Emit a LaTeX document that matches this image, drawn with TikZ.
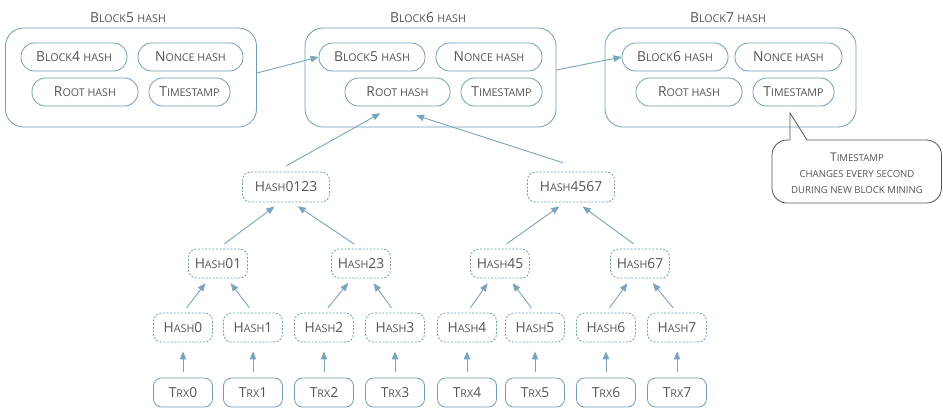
\documentclass[tikz,border=0pt]{standalone}
\usepackage{fontspec}
\setmainfont{Open Sans}
\usetikzlibrary{arrows.meta}
\definecolor{edge}{HTML}{6F9DB3}
\definecolor{arrc}{HTML}{7AA5BA}
\definecolor{txt}{HTML}{555555}
\definecolor{callc}{HTML}{555555}
\newcommand\sk[1]{{\fontsize{10.7}{12}\selectfont\MakeUppercase{#1}}}
\newcommand\skc[1]{{\fontsize{9.6}{10}\selectfont\MakeUppercase{#1}}}
\begin{document}
\begin{tikzpicture}[x=1pt,y=-1pt,
 every node/.style={text=txt, font=\fontsize{13.8}{16}\selectfont},
 bigbox/.style={draw=edge, line width=0.8pt, rounded corners=18pt, minimum width=251pt, minimum height=99pt, inner sep=0pt},
 pill/.style={draw=edge, line width=0.8pt, rounded corners=13.5pt, minimum height=28pt, inner sep=0pt, text height=9.8pt, text depth=0pt},
 hbox/.style={draw=edge, dash pattern=on 2pt off 1.6pt, line width=0.8pt, rounded corners=8pt, minimum width=59pt, minimum height=29pt, inner sep=0pt, text height=9.8pt, text depth=0pt},
 tbox/.style={draw=edge, line width=0.8pt, rounded corners=8pt, minimum width=59pt, minimum height=29pt, inner sep=0pt, text height=9.8pt, text depth=0pt},
 title/.style={anchor=base},
 arr/.style={draw=arrc, line width=0.9pt, -{Triangle[length=8pt,width=6.5pt]}},
 ]
\useasboundingbox (0,0) rectangle (943,408);
\fill[white] (0,0) rectangle (943,408);

% --- blocks ---
\node[bigbox] (blk5) at (131,77.5) {};
\node[bigbox] (blk6) at (430.5,77.5) {};
\node[bigbox] (blk7) at (730.5,77.5) {};
\node[title] (t5) at (128,22) {B\sk{lock}5 \sk{hash}};
\node[title] (t6) at (428,22) {B\sk{lock}6 \sk{hash}};
\node[title] (t7) at (728,22) {B\sk{lock}7 \sk{hash}};

\node[pill, minimum width=106pt] (a1) at (74,57) {B\sk{lock}4 \sk{hash}};
\node[pill, minimum width=105pt] (a2) at (190.5,57) {N\sk{once hash}};
\node[pill, minimum width=106pt] (a3) at (85,92) {R\sk{oot hash}};
\node[pill, minimum width=81pt] (a4) at (189.5,92) {T\sk{imestamp}};

\node[pill, minimum width=106pt] (b1) at (372,57) {B\sk{lock}5 \sk{hash}};
\node[pill, minimum width=106pt] (b2) at (489,57) {N\sk{once hash}};
\node[pill, minimum width=105pt] (b3) at (397.5,92) {R\sk{oot hash}};
\node[pill, minimum width=81pt] (b4) at (501.5,92) {T\sk{imestamp}};

\node[pill, minimum width=106pt] (c1) at (675,57) {B\sk{lock}6 \sk{hash}};
\node[pill, minimum width=107pt] (c2) at (788.5,57) {N\sk{once hash}};
\node[pill, minimum width=106pt] (c3) at (689,92) {R\sk{oot hash}};
\node[pill, minimum width=81pt] (c4) at (793.5,92) {T\sk{imestamp}};

\draw[arr] ([yshift=4.5pt]blk5.east) -- (b1.west);
\draw[arr] ([yshift=7.5pt]blk6.east) -- (c1.west);

% --- callout ---
\coordinate (tip) at (790,113);
\draw[callc, line width=0.8pt] (tip) -- (807,140) [rounded corners=15pt] -- (941.5,140) -- (941.5,203) -- (772,203) -- (772,140) [sharp corners] -- (790,140) -- cycle;
\node[align=center, font=\fontsize{12}{16}\selectfont, text=txt] (note) at (857,173)
 {T\skc{imestamp}\\ \skc{changes every second}\\ \skc{during new block mining}};

% --- tree ---
\node[hbox, minimum width=87pt, minimum height=30pt] (h0123) at (286,187) {H\sk{ash}0123};
\node[hbox, minimum width=87pt, minimum height=30pt] (h4567) at (571,187) {H\sk{ash}4567};
\node[hbox] (h01) at (218,263.5) {H\sk{ash}01};
\node[hbox] (h23) at (361,263.5) {H\sk{ash}23};
\node[hbox] (h45) at (500,263.5) {H\sk{ash}45};
\node[hbox] (h67) at (640,263.5) {H\sk{ash}67};
\foreach \i/\x in {0/183,1/253,2/324,3/395,4/467,5/535,6/606,7/677}{
  \node[hbox] (h\i) at (\x,327.5) {H\sk{ash}\i};
  \node[tbox] (t\i) at (\x,392.5) {T\sk{rx}\i};
  \draw[arr, shorten <=6pt, shorten >=9pt] (t\i.north) -- (h\i.south);
}
\draw[arr, shorten <=6pt, shorten >=6pt] (h0.north) -- ([xshift=-9pt]h01.south);
\draw[arr, shorten <=6pt, shorten >=6pt] (h1.north) -- ([xshift=9pt]h01.south);
\draw[arr, shorten <=6pt, shorten >=6pt] (h2.north) -- ([xshift=-9pt]h23.south);
\draw[arr, shorten <=6pt, shorten >=6pt] (h3.north) -- ([xshift=9pt]h23.south);
\draw[arr, shorten <=6pt, shorten >=6pt] (h4.north) -- ([xshift=-9pt]h45.south);
\draw[arr, shorten <=6pt, shorten >=6pt] (h5.north) -- ([xshift=9pt]h45.south);
\draw[arr, shorten <=6pt, shorten >=6pt] (h6.north) -- ([xshift=-9pt]h67.south);
\draw[arr, shorten <=6pt, shorten >=6pt] (h7.north) -- ([xshift=9pt]h67.south);

\draw[arr, shorten <=8pt, shorten >=7pt] (h01.north) -- ([xshift=-6pt]h0123.south);
\draw[arr, shorten <=8pt, shorten >=7pt] (h23.north) -- ([xshift=6pt]h0123.south);
\draw[arr, shorten <=8pt, shorten >=7pt] (h45.north) -- ([xshift=-6pt]h4567.south);
\draw[arr, shorten <=8pt, shorten >=7pt] (h67.north) -- ([xshift=6pt]h4567.south);

\draw[arr, shorten <=12pt, shorten >=14pt] ([xshift=-10pt]h0123.north) -- ([xshift=-5pt]b3.south);
\draw[arr, shorten <=29pt, shorten >=29pt] ([xshift=19.5pt]h4567.north) -- ([xshift=-9pt]b3.south);
\end{tikzpicture}
\end{document}
